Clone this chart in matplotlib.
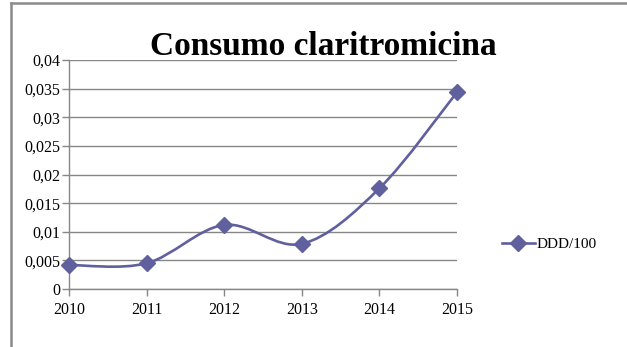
import numpy as np
import matplotlib.pyplot as plt
from matplotlib.path import Path
from matplotlib.patches import PathPatch
from matplotlib.lines import Line2D
from matplotlib.ticker import FuncFormatter, MultipleLocator

years = [2010, 2011, 2012, 2013, 2014, 2015]
ddd = [0.0042, 0.0045, 0.0112, 0.0079, 0.0176, 0.0344]
series_name = 'DDD/100'
title = 'Consumo claritromicina'

line_col = '#60609E'
grid_col = '#878787'

plt.rcParams['font.family'] = ['Liberation Serif', 'DejaVu Serif']

fig = plt.figure(figsize=(6.27, 3.47), dpi=100)
ax = fig.add_axes([0.110, 0.167, 0.619, 0.660])

# smoothed line: cubic bezier segments through the points
x = np.array(years, dtype=float)
y = np.array(ddd)
n = len(x)
verts = [(x[0], y[0])]
codes = [Path.MOVETO]
for i in range(n - 1):
    p0 = np.array([x[max(i - 1, 0)], y[max(i - 1, 0)]])
    p1 = np.array([x[i], y[i]])
    p2 = np.array([x[i + 1], y[i + 1]])
    p3 = np.array([x[min(i + 2, n - 1)], y[min(i + 2, n - 1)]])
    c1 = p1 + (p2 - p0) / 6
    c2 = p2 - (p3 - p1) / 6
    verts += [tuple(c1), tuple(c2), tuple(p2)]
    codes += [Path.CURVE4] * 3
ax.add_patch(PathPatch(Path(verts, codes), facecolor='none', edgecolor=line_col,
                       lw=1.9, zorder=3, clip_on=False))
ax.plot(years, ddd, linestyle='none', marker='D', ms=8.5, color=line_col,
        zorder=4, clip_on=False)

ax.set_xlim(2010, 2015)
ax.set_ylim(0, 0.04)
ax.set_xticks(years)
ax.set_xticklabels([str(v) for v in years])
ax.yaxis.set_major_locator(MultipleLocator(0.005))
ax.yaxis.set_major_formatter(FuncFormatter(
    lambda v, p: '0' if abs(v) < 1e-12 else ('%g' % round(v, 4)).replace('.', ',')))
ax.grid(axis='y', color=grid_col, lw=1.0)
ax.set_axisbelow(True)
for s in ['top', 'right']:
    ax.spines[s].set_visible(False)
for s in ['left', 'bottom']:
    ax.spines[s].set_color(grid_col)
    ax.spines[s].set_linewidth(1.0)
ax.tick_params(axis='both', colors=grid_col, labelcolor='black', labelsize=11.5,
               length=5, width=1.0, direction='out')
ax.tick_params(axis='x', pad=4)
ax.tick_params(axis='y', pad=1)

fig.text(0.515, 0.865, title, ha='center', va='center', fontsize=24,
         fontweight='bold')

handle = Line2D([], [], color=line_col, lw=1.9, marker='D', ms=8.5)
fig.legend([handle], [series_name], loc='center left',
           bbox_to_anchor=(0.778, 0.295), frameon=False, fontsize=11,
           handlelength=2.2, handletextpad=0.1)

# outer chart frame
fig.add_artist(Line2D([0.017, 0.017], [0.0, 0.992], color='#8a8a8a', lw=1.8,
                      transform=fig.transFigure))
fig.add_artist(Line2D([0.017, 1.0], [0.992, 0.992], color='#8a8a8a', lw=1.8,
                      transform=fig.transFigure))

fig.savefig('out.png', dpi=100)
